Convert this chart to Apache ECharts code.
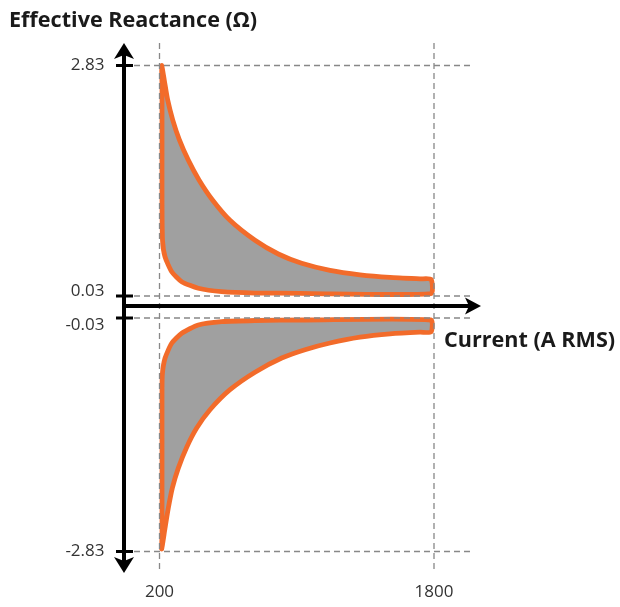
<!DOCTYPE html>
<html><head><meta charset="utf-8">
<script src="https://cdn.jsdelivr.net/npm/echarts@6/dist/echarts.min.js"></script>
<style>html,body{margin:0;padding:0;background:#fff}#c{width:620px;height:607px}</style>
</head><body><div id="c"></div>
<script>
// Tick values
const xTicks = [200, 1800];
const yTicksUpper = [0.03, 2.83];
const yTicksLower = [-2.83, -0.03];

// Upper region: outer boundary (left to right), then inner boundary (right to left)
const upperOuter = [[212.8, 2.83], [228.0, 2.65], [247.8, 2.41], [276.9, 2.17], [315.4, 1.93], [367.9, 1.68], [430.2, 1.44], [507.8, 1.20], [610.9, 0.95], [756.7, 0.707], [892.5, 0.540], [1028.9, 0.427], [1193.9, 0.341], [1368.8, 0.288], [1543.7, 0.256], [1718.5, 0.238], [1782.6, 0.233]];
const upperInner = [[1782.6, 0.060], [1019, 0.063], [756.7, 0.066], [562.6, 0.082], [426.2, 0.124], [329.4, 0.204], [271.1, 0.325], [232.1, 0.507], [217.5, 0.710], [214.6, 1.20], [214.6, 1.80], [214.6, 2.29], [214.6, 2.59]];
// Lower region
const lowerOuter = [[212.8, -2.80], [232.1, -2.55], [251.3, -2.31], [274.6, -2.07], [309.6, -1.83], [358.5, -1.58], [416.8, -1.35], [494.4, -1.13], [610.9, -0.89], [756.7, -0.68], [912.3, -0.51], [1048.1, -0.41], [1193.9, -0.33], [1368.8, -0.26], [1543.7, -0.22], [1718.5, -0.20], [1782.6, -0.198]];
const lowerInner = [[1782.6, -0.054], [1048, -0.054], [756.7, -0.060], [562.6, -0.074], [426.2, -0.114], [329.4, -0.213], [271.1, -0.333], [232.1, -0.513], [216.3, -0.713], [214.6, -1.01], [214.6, -1.61], [214.6, -2.39], [214.6, -2.63]];

const FONT = 'Open Sans';
const ORANGE = '#F26B2A';
const chart = echarts.init(document.getElementById('c'));

function shapeSeries(idx, outer, inner) {
  return {
    type: 'custom', coordinateSystem: 'cartesian2d',
    xAxisIndex: idx, yAxisIndex: idx,
    data: [outer[0]], clip: false, silent: true, z: 2,
    renderItem: function (params, api) {
      const pts = outer.concat(inner).map(p => api.coord(p));
      return {
        type: 'polygon',
        shape: { points: pts, smooth: 0.2 },
        style: { fill: '#a0a0a0', stroke: ORANGE, lineWidth: 4.8, lineJoin: 'round' }
      };
    }
  };
}

const hiddenX = { show: true, axisLine: { show: false }, axisTick: { show: false }, splitLine: { show: false }, axisLabel: { show: false } };
const tickFont = { fontFamily: FONT, fontSize: 17, color: '#333' };

const option = {
  animation: false,
  backgroundColor: '#fff',
  title: [
    { text: 'Effective Reactance (Ω)', left: 9, top: 10, padding: 0,
      textStyle: { fontFamily: FONT, fontWeight: 'bold', fontSize: 21.6, color: '#1a1a1a' } },
    { text: 'Current (A RMS)', left: 444, top: 330, padding: 0,
      textStyle: { fontFamily: FONT, fontWeight: 'bold', fontSize: 21.6, color: '#1a1a1a' } }
  ],
  grid: [
    { left: 159.5, right: 186, top: 65.5, height: 230.5 },
    { left: 159.5, right: 186, top: 318, height: 233.5 }
  ],
  xAxis: [
    Object.assign({ type: 'value', gridIndex: 0, min: 200, max: 1800 }, hiddenX),
    { type: 'value', gridIndex: 1, min: 200, max: 1800,
      axisLine: { show: false }, axisTick: { show: false }, splitLine: { show: false },
      axisLabel: Object.assign({ customValues: xTicks, margin: 32, formatter: v => String(v) }, tickFont) }
  ],
  yAxis: [
    { type: 'value', gridIndex: 0, min: 0.03, max: 2.83,
      axisLine: { show: false }, axisTick: { show: false }, splitLine: { show: false },
      axisLabel: Object.assign({ customValues: yTicksUpper, margin: 55,
        formatter: v => (v === yTicksUpper[0] ? '{lo|' + v.toFixed(2) + '}' : '{n|' + v.toFixed(2) + '}'),
        rich: { lo: Object.assign({ padding: [0, 0, 9, 0] }, tickFont), n: tickFont } }, tickFont) },
    { type: 'value', gridIndex: 1, min: -2.83, max: -0.03,
      axisLine: { show: false }, axisTick: { show: false }, splitLine: { show: false },
      axisLabel: Object.assign({ customValues: yTicksLower, margin: 55,
        formatter: v => (v === yTicksLower[1] ? '{hi|' + v.toFixed(2) + '}' : '{n|' + v.toFixed(2) + '}'),
        rich: { hi: Object.assign({ padding: [14, 0, 0, 0] }, tickFont), n: tickFont } }, tickFont) }
  ],
  series: [
    shapeSeries(0, upperOuter, upperInner),
    shapeSeries(1, lowerOuter, lowerInner)
  ]
};
chart.setOption(option);

// Decorations (axes with arrows, ticks, dashed guides) placed from the axes' scales
const X = v => chart.convertToPixel({ xAxisIndex: 0 }, v);
const YU = v => chart.convertToPixel({ yAxisIndex: 0 }, v);
const YL = v => chart.convertToPixel({ yAxisIndex: 1 }, v);
const x200 = X(xTicks[0]), x1800 = X(xTicks[1]);
const axX = x200 - 35.5;
const axY = (YU(yTicksUpper[0]) + YL(yTicksLower[1])) / 2 - 1;
const topY = YU(yTicksUpper[1]) - 22.5;
const botY = YL(yTicksLower[0]) + 21.5;
const dashEnd = x1800 + 36;
const dash = { stroke: '#888', lineWidth: 1.3, lineDash: [6, 4] };
const blk = { stroke: '#000', lineWidth: 4 };
const els = [];
const yPix = yTicksUpper.map(YU).concat(yTicksLower.map(YL));
yPix.forEach(y => {
  els.push({ type: 'line', z: 3, shape: { x1: axX, y1: y, x2: dashEnd, y2: y }, style: dash });
});
[x200, x1800].forEach(x => {
  els.push({ type: 'line', z: 3, shape: { x1: x, y1: topY, x2: x, y2: botY }, style: dash });
});
els.push({ type: 'line', z: 4, shape: { x1: axX, y1: topY + 10, x2: axX, y2: botY - 10 }, style: blk });
els.push({ type: 'polygon', z: 4, shape: { points: [[axX, topY], [axX + 10, topY + 16], [axX, topY + 12], [axX - 10, topY + 16]] }, style: { fill: '#000' } });
els.push({ type: 'polygon', z: 4, shape: { points: [[axX, botY], [axX + 10, botY - 16], [axX, botY - 12], [axX - 10, botY - 16]] }, style: { fill: '#000' } });
const arrowTip = dashEnd + 11;
els.push({ type: 'line', z: 4, shape: { x1: axX, y1: axY, x2: arrowTip - 10, y2: axY }, style: blk });
els.push({ type: 'polygon', z: 4, shape: { points: [[arrowTip, axY], [arrowTip - 16, axY - 8.5], [arrowTip - 12, axY], [arrowTip - 16, axY + 8.5]] }, style: { fill: '#000' } });
yPix.forEach(y => {
  els.push({ type: 'line', z: 4, shape: { x1: axX - 8, y1: y, x2: axX + 9, y2: y }, style: { stroke: '#000', lineWidth: 3 } });
});
chart.setOption({ graphic: { elements: els } });
</script>
</body></html>
